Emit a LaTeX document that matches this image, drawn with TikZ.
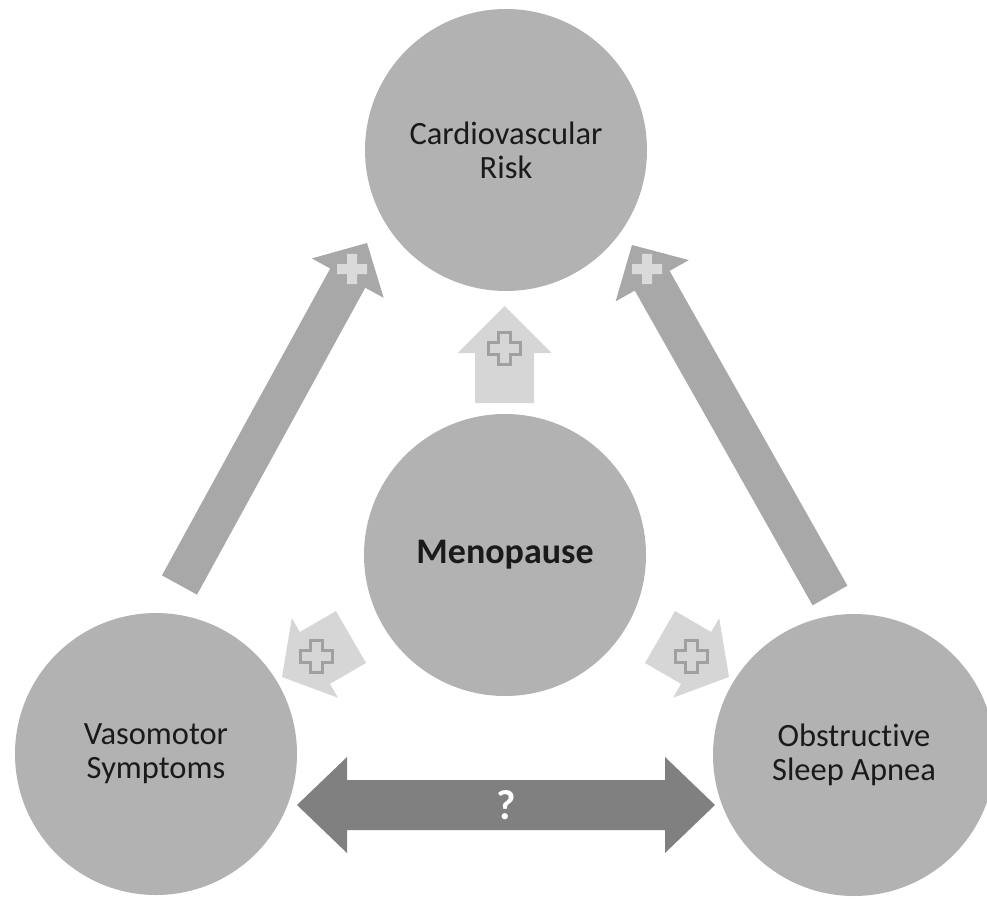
\documentclass[tikz,border=0pt]{standalone}
\usepackage{fontspec}
\setmainfont{Carlito}[Ligatures={NoCommon}]
\usetikzlibrary{calc}
\definecolor{circgray}{HTML}{B2B2B2}
\definecolor{biggray}{HTML}{A8A8A8}
\definecolor{lightgray}{HTML}{D6D6D6}
\definecolor{darkgray}{HTML}{808080}
\definecolor{plusfill}{HTML}{DADADA}
\definecolor{plusline}{HTML}{A0A0A0}
\definecolor{txt}{HTML}{1A1A1A}
% block arrow: tail, tip, shaft width, head width, head length, style
\newcommand\blockarr[6]{%
  \fill[#6] let \p1=($(#2)-(#1)$), \n1={atan2(\y1,\x1)}, \n2={veclen(\x1,\y1)},
    \n3={#3/2*1pt}, \n4={#4/2*1pt}, \n5={\n2-#5*1pt} in
    ($(#1)+(\n1+90:\n3)$) -- ($(#1)+(\n1:\n5)+(\n1+90:\n3)$) --
    ($(#1)+(\n1:\n5)+(\n1+90:\n4)$) -- (#2) --
    ($(#1)+(\n1:\n5)+(\n1-90:\n4)$) -- ($(#1)+(\n1:\n5)+(\n1-90:\n3)$) --
    ($(#1)+(\n1-90:\n3)$) -- cycle;}
% plus sign: centre, half size, half arm, style
\newcommand\plussign[4]{%
  \path[#4, shift={(#1)}] (-#3,-#2) -- (#3,-#2) -- (#3,-#3) -- (#2,-#3) -- (#2,#3) -- (#3,#3)
    -- (#3,#2) -- (-#3,#2) -- (-#3,#3) -- (-#2,#3) -- (-#2,-#3) -- (-#3,-#3) -- cycle;}
\begin{document}
\begin{tikzpicture}[x=1pt,y=-1pt,
  circ/.style={circle, fill=circgray, minimum size=282pt, inner sep=0pt, align=center,
    text=txt, font=\fontsize{32.5}{34}\selectfont},
  bigarrow/.style={fill=biggray},
  smallarrow/.style={fill=lightgray},
  solidplus/.style={fill=plusfill},
  outlineplus/.style={fill=lightgray, draw=plusline, line width=3pt, line join=miter}]
\useasboundingbox (0,0) rectangle (987,901);

% circles
\node[circ] (cvr) at (506,150) {Cardiovascular\\Risk};
\node[circ] (meno) at (505,555) {\fontsize{36}{40}\selectfont\bfseries Menopause};
\node[circ] (vms) at (156,754) {Vasomotor\\Symptoms};
\node[circ] (osa) at (854,755) {Obstructive\\Sleep Apnea};

% big arrows to cardiovascular risk
\coordinate (bl0) at (179.5,585);
\coordinate (bl1) at (367,243);
\coordinate (br0) at (830,595.5);
\coordinate (br1) at (632,245);
\blockarr{bl0}{bl1}{40}{82}{40}{bigarrow}
\blockarr{br0}{br1}{40}{84}{41}{bigarrow}
\coordinate (plbl) at (352,269);
\coordinate (plbr) at (647,269);
\plussign{plbl}{15}{5}{solidplus}
\plussign{plbr}{15}{5}{solidplus}

% small arrows from menopause
\coordinate (up0) at (504.5,403);
\coordinate (up1) at (504.5,306);
\coordinate (sl0) at (351,637);
\coordinate (sl1) at (282,677);
\coordinate (sr0) at (660,637);
\coordinate (sr1) at (729,677);
\blockarr{up0}{up1}{59}{94}{47}{smallarrow}
\blockarr{sl0}{sl1}{60}{92}{38}{smallarrow}
\blockarr{sr0}{sr1}{60}{92}{38}{smallarrow}
\coordinate (plup) at (504.5,348);
\coordinate (plsl) at (316.5,656.5);
\coordinate (plsr) at (691,656.5);
\plussign{plup}{16}{6}{outlineplus}
\plussign{plsl}{16}{6}{outlineplus}
\plussign{plsr}{16}{6}{outlineplus}

% double arrow between VMS and OSA
\coordinate (dl) at (297,805);
\coordinate (dr) at (715,805);
\fill[darkgray] (dl) -- ($(dl)+(50,-48)$) -- ($(dl)+(50,-25)$) -- ($(dr)+(-50,-25)$)
  -- ($(dr)+(-50,-48)$) -- (dr) -- ($(dr)+(-50,48)$) -- ($(dr)+(-50,25)$)
  -- ($(dl)+(50,25)$) -- ($(dl)+(50,48)$) -- cycle;
\node[text=white, font=\fontsize{42}{44}\selectfont\bfseries] (q) at ($(dl)!0.5!(dr)$) {?};
\end{tikzpicture}
\end{document}
